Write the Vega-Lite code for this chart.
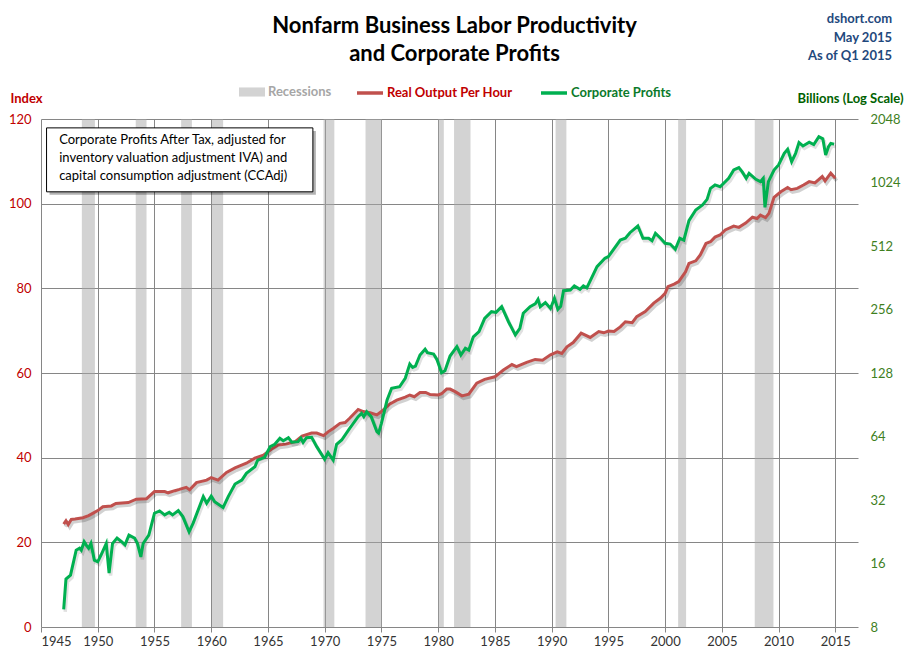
{
  "$schema": "https://vega.github.io/schema/vega-lite/v6.json",
  "width": 817,
  "height": 508,
  "autosize": "none",
  "padding": {"left": 41, "top": 119, "right": 50, "bottom": 35},
  "background": "white",
  "config": {
    "font": "Lato",
    "view": {"stroke": null},
    "legend": {
      "title": null,
      "orient": "none",
      "legendY": -41,
      "direction": "horizontal",
      "symbolSize": 676,
      "labelFont": "Lato",
      "labelFontSize": 13,
      "labelFontWeight": "bold",
      "labelOffset": 2
    }
  },
  "title": {
    "text": ["Nonfarm Business Labor Productivity", "and Corporate Profits"],
    "font": "Lato",
    "fontSize": 22,
    "fontWeight": "bold",
    "color": "#000000",
    "lineHeight": 28,
    "anchor": "middle",
    "dx": 5,
    "offset": -53
  },
  "datasets": {
    "recessions": [
      {"start": 1948.6, "end": 1949.75},
      {"start": 1953.35, "end": 1954.3},
      {"start": 1957.35, "end": 1958.3},
      {"start": 1960.05, "end": 1961.05},
      {"start": 1969.9, "end": 1970.85},
      {"start": 1973.6, "end": 1975.05},
      {"start": 1980.0, "end": 1980.5},
      {"start": 1981.4, "end": 1982.85},
      {"start": 1990.35, "end": 1991.3},
      {"start": 2001.15, "end": 2001.85},
      {"start": 2007.9, "end": 2009.55}
    ],
    "productivity": [
      {"year": 1947.0, "value": 24.3}, {"year": 1947.2, "value": 25.1}, {"year": 1947.4, "value": 24.2},
      {"year": 1947.67, "value": 25.4}, {"year": 1948.0, "value": 25.5}, {"year": 1948.7, "value": 25.8},
      {"year": 1949.2, "value": 26.3}, {"year": 1949.6, "value": 26.9}, {"year": 1950.0, "value": 27.5},
      {"year": 1950.45, "value": 28.4}, {"year": 1951.2, "value": 28.6}, {"year": 1951.6, "value": 29.2},
      {"year": 1952.7, "value": 29.4}, {"year": 1953.4, "value": 30.2}, {"year": 1954.3, "value": 30.3},
      {"year": 1955.0, "value": 32.0}, {"year": 1955.9, "value": 32.0}, {"year": 1956.2, "value": 31.7},
      {"year": 1956.8, "value": 32.2}, {"year": 1957.2, "value": 32.5}, {"year": 1957.8, "value": 33.0},
      {"year": 1958.1, "value": 32.4}, {"year": 1958.7, "value": 34.1}, {"year": 1959.6, "value": 34.7},
      {"year": 1960.0, "value": 35.3}, {"year": 1960.6, "value": 34.7}, {"year": 1961.35, "value": 36.5},
      {"year": 1962.1, "value": 37.6}, {"year": 1963.1, "value": 38.7}, {"year": 1963.85, "value": 39.9},
      {"year": 1964.6, "value": 40.6}, {"year": 1965.3, "value": 42.0}, {"year": 1965.9, "value": 43.0},
      {"year": 1966.6, "value": 43.2}, {"year": 1967.4, "value": 43.8}, {"year": 1968.0, "value": 45.1},
      {"year": 1968.85, "value": 45.8}, {"year": 1969.3, "value": 45.8}, {"year": 1969.9, "value": 45.2},
      {"year": 1970.3, "value": 46.1}, {"year": 1970.75, "value": 46.9}, {"year": 1971.35, "value": 48.1},
      {"year": 1971.8, "value": 48.3}, {"year": 1972.2, "value": 49.3}, {"year": 1972.95, "value": 51.4},
      {"year": 1973.4, "value": 50.9}, {"year": 1974.0, "value": 50.6}, {"year": 1974.6, "value": 50.1},
      {"year": 1975.0, "value": 50.9}, {"year": 1975.75, "value": 52.7}, {"year": 1976.35, "value": 53.6},
      {"year": 1977.1, "value": 54.3}, {"year": 1977.5, "value": 54.8}, {"year": 1977.9, "value": 54.4},
      {"year": 1978.4, "value": 55.4}, {"year": 1978.9, "value": 55.4}, {"year": 1979.3, "value": 54.9},
      {"year": 1980.0, "value": 54.8}, {"year": 1980.3, "value": 55.1}, {"year": 1980.75, "value": 56.2},
      {"year": 1981.05, "value": 56.2}, {"year": 1981.5, "value": 55.6}, {"year": 1982.1, "value": 54.6},
      {"year": 1982.7, "value": 55.0}, {"year": 1983.4, "value": 57.6}, {"year": 1984.1, "value": 58.5},
      {"year": 1985.0, "value": 59.1}, {"year": 1985.75, "value": 60.7}, {"year": 1986.5, "value": 62.0},
      {"year": 1986.9, "value": 61.5}, {"year": 1987.8, "value": 62.5}, {"year": 1988.55, "value": 63.2},
      {"year": 1989.2, "value": 63.0}, {"year": 1989.9, "value": 64.3}, {"year": 1990.5, "value": 65.0},
      {"year": 1990.9, "value": 64.6}, {"year": 1991.35, "value": 66.2}, {"year": 1991.9, "value": 67.2},
      {"year": 1992.6, "value": 69.4}, {"year": 1993.4, "value": 68.4}, {"year": 1994.15, "value": 69.8},
      {"year": 1994.6, "value": 69.5}, {"year": 1995.0, "value": 69.9}, {"year": 1995.5, "value": 69.8},
      {"year": 1996.05, "value": 70.9}, {"year": 1996.5, "value": 72.1}, {"year": 1997.1, "value": 71.9},
      {"year": 1997.5, "value": 73.3}, {"year": 1998.25, "value": 74.5}, {"year": 1999.0, "value": 76.5},
      {"year": 1999.6, "value": 77.7}, {"year": 2000.0, "value": 78.8}, {"year": 2000.25, "value": 80.4},
      {"year": 2000.8, "value": 81.0}, {"year": 2001.2, "value": 81.6}, {"year": 2001.8, "value": 83.9},
      {"year": 2002.1, "value": 85.9}, {"year": 2002.7, "value": 86.5}, {"year": 2003.1, "value": 87.9},
      {"year": 2003.6, "value": 90.6}, {"year": 2004.0, "value": 91.0}, {"year": 2004.4, "value": 92.1},
      {"year": 2004.85, "value": 92.6}, {"year": 2005.3, "value": 93.8}, {"year": 2006.05, "value": 94.7},
      {"year": 2006.5, "value": 94.4}, {"year": 2007.1, "value": 95.4}, {"year": 2007.7, "value": 96.8},
      {"year": 2008.1, "value": 96.5}, {"year": 2008.4, "value": 97.3}, {"year": 2008.85, "value": 96.7},
      {"year": 2009.15, "value": 97.7}, {"year": 2009.6, "value": 101.5}, {"year": 2010.2, "value": 102.8},
      {"year": 2010.8, "value": 103.8}, {"year": 2011.1, "value": 103.3}, {"year": 2011.65, "value": 103.6},
      {"year": 2012.2, "value": 104.4}, {"year": 2012.7, "value": 105.2}, {"year": 2013.2, "value": 104.9},
      {"year": 2013.85, "value": 106.4}, {"year": 2014.1, "value": 105.4}, {"year": 2014.6, "value": 107.2},
      {"year": 2014.8, "value": 106.6}, {"year": 2015.0, "value": 106.0}
    ],
    "profits": [
      {"year": 1947.0, "value": 9.7}, {"year": 1947.2, "value": 13.5}, {"year": 1947.6, "value": 14.1},
      {"year": 1948.1, "value": 18.5}, {"year": 1948.4, "value": 18.9}, {"year": 1948.55, "value": 18.5},
      {"year": 1948.8, "value": 20.3}, {"year": 1949.0, "value": 19.5}, {"year": 1949.2, "value": 18.9},
      {"year": 1949.4, "value": 19.9}, {"year": 1949.7, "value": 16.6}, {"year": 1950.0, "value": 16.3},
      {"year": 1950.3, "value": 17.6}, {"year": 1950.75, "value": 19.9}, {"year": 1951.0, "value": 14.4},
      {"year": 1951.3, "value": 19.9}, {"year": 1951.7, "value": 21.1}, {"year": 1952.1, "value": 20.3},
      {"year": 1952.4, "value": 19.6}, {"year": 1952.75, "value": 21.8}, {"year": 1953.25, "value": 21.1},
      {"year": 1953.5, "value": 19.9}, {"year": 1953.8, "value": 17.2}, {"year": 1954.0, "value": 19.9},
      {"year": 1954.5, "value": 21.8}, {"year": 1955.0, "value": 27.7}, {"year": 1955.45, "value": 28.4},
      {"year": 1955.9, "value": 27.2}, {"year": 1956.3, "value": 28.0}, {"year": 1956.6, "value": 27.2},
      {"year": 1957.1, "value": 28.5}, {"year": 1957.5, "value": 26.7}, {"year": 1958.05, "value": 22.6},
      {"year": 1958.4, "value": 24.8}, {"year": 1959.3, "value": 33.2}, {"year": 1959.6, "value": 30.9},
      {"year": 1960.0, "value": 33.4}, {"year": 1960.3, "value": 31.4}, {"year": 1961.05, "value": 29.5},
      {"year": 1961.5, "value": 33.2}, {"year": 1962.1, "value": 38.1}, {"year": 1962.7, "value": 39.8},
      {"year": 1963.1, "value": 42.8}, {"year": 1963.85, "value": 46.0}, {"year": 1964.1, "value": 49.5},
      {"year": 1964.7, "value": 51.0}, {"year": 1965.2, "value": 57.3}, {"year": 1965.6, "value": 58.8},
      {"year": 1966.05, "value": 62.8}, {"year": 1966.35, "value": 61.1}, {"year": 1966.8, "value": 63.2},
      {"year": 1967.1, "value": 60.1}, {"year": 1967.65, "value": 60.5}, {"year": 1967.9, "value": 62.8},
      {"year": 1968.1, "value": 60.0}, {"year": 1968.4, "value": 63.2}, {"year": 1968.85, "value": 63.5},
      {"year": 1969.3, "value": 57.3}, {"year": 1970.0, "value": 49.9}, {"year": 1970.3, "value": 53.6},
      {"year": 1970.75, "value": 49.5}, {"year": 1971.05, "value": 58.8}, {"year": 1971.5, "value": 61.6},
      {"year": 1972.2, "value": 70.0}, {"year": 1972.95, "value": 79.5}, {"year": 1973.25, "value": 82.4},
      {"year": 1973.45, "value": 79.5}, {"year": 1973.7, "value": 83.9}, {"year": 1974.1, "value": 79.5},
      {"year": 1974.6, "value": 67.5}, {"year": 1974.75, "value": 66.4}, {"year": 1975.0, "value": 73.9},
      {"year": 1975.5, "value": 95.3}, {"year": 1975.9, "value": 108.3}, {"year": 1976.6, "value": 110.2},
      {"year": 1977.1, "value": 120.8}, {"year": 1977.5, "value": 141}, {"year": 1977.75, "value": 136},
      {"year": 1978.0, "value": 138}, {"year": 1978.4, "value": 155.8}, {"year": 1978.85, "value": 165.8},
      {"year": 1979.05, "value": 159.8}, {"year": 1979.6, "value": 157.5}, {"year": 1979.9, "value": 148},
      {"year": 1980.3, "value": 128.4}, {"year": 1980.6, "value": 131.2}, {"year": 1981.05, "value": 154},
      {"year": 1981.65, "value": 170.6}, {"year": 1982.0, "value": 155.8}, {"year": 1982.4, "value": 167.6},
      {"year": 1982.7, "value": 164.5}, {"year": 1983.1, "value": 190}, {"year": 1983.6, "value": 201},
      {"year": 1984.1, "value": 232.5}, {"year": 1984.7, "value": 250}, {"year": 1985.1, "value": 248},
      {"year": 1985.6, "value": 264}, {"year": 1986.2, "value": 224}, {"year": 1986.8, "value": 194},
      {"year": 1987.2, "value": 208.5}, {"year": 1987.5, "value": 245.6}, {"year": 1988.1, "value": 264},
      {"year": 1988.55, "value": 272}, {"year": 1988.8, "value": 286}, {"year": 1989.0, "value": 264},
      {"year": 1989.45, "value": 276}, {"year": 1989.9, "value": 259}, {"year": 1990.25, "value": 289.5},
      {"year": 1990.55, "value": 256.5}, {"year": 1990.8, "value": 265}, {"year": 1991.05, "value": 314.4},
      {"year": 1991.65, "value": 316.7}, {"year": 1992.0, "value": 331}, {"year": 1992.5, "value": 319},
      {"year": 1992.8, "value": 331}, {"year": 1993.1, "value": 324}, {"year": 1994.0, "value": 408.5},
      {"year": 1994.7, "value": 447.6}, {"year": 1995.0, "value": 456}, {"year": 1996.05, "value": 546},
      {"year": 1996.5, "value": 557}, {"year": 1996.9, "value": 592}, {"year": 1997.6, "value": 637},
      {"year": 1998.05, "value": 557}, {"year": 1998.55, "value": 557}, {"year": 1998.85, "value": 542},
      {"year": 1999.15, "value": 588}, {"year": 1999.6, "value": 557}, {"year": 2000.0, "value": 527},
      {"year": 2000.45, "value": 523}, {"year": 2000.9, "value": 494}, {"year": 2001.3, "value": 557},
      {"year": 2001.65, "value": 546}, {"year": 2002.1, "value": 675}, {"year": 2002.7, "value": 758},
      {"year": 2003.3, "value": 801}, {"year": 2003.7, "value": 852}, {"year": 2004.0, "value": 961},
      {"year": 2004.4, "value": 997}, {"year": 2004.85, "value": 978}, {"year": 2005.6, "value": 1072},
      {"year": 2006.05, "value": 1174}, {"year": 2006.5, "value": 1204}, {"year": 2006.8, "value": 1150},
      {"year": 2007.15, "value": 1072}, {"year": 2007.4, "value": 1132}, {"year": 2008.0, "value": 1060},
      {"year": 2008.4, "value": 1033}, {"year": 2008.65, "value": 1072}, {"year": 2008.8, "value": 781},
      {"year": 2009.1, "value": 1033}, {"year": 2009.6, "value": 1174}, {"year": 2010.0, "value": 1240},
      {"year": 2010.5, "value": 1408}, {"year": 2010.8, "value": 1471}, {"year": 2011.15, "value": 1286},
      {"year": 2011.5, "value": 1408}, {"year": 2011.8, "value": 1582}, {"year": 2012.15, "value": 1526},
      {"year": 2012.7, "value": 1590}, {"year": 2013.1, "value": 1550}, {"year": 2013.55, "value": 1687},
      {"year": 2013.9, "value": 1650}, {"year": 2014.15, "value": 1382}, {"year": 2014.4, "value": 1514},
      {"year": 2014.6, "value": 1568}, {"year": 2014.9, "value": 1557}
    ]
  },
  "layer": [
    {
      "data": {"name": "recessions"},
      "mark": {"type": "rect", "opacity": 0.5},
      "encoding": {
        "x": {
          "field": "start", "type": "quantitative",
          "scale": {"domain": [1945, 2017], "nice": false, "zero": false},
          "axis": {
            "title": null,
            "values": [1945, 1950, 1955, 1960, 1965, 1970, 1975, 1980, 1985, 1990, 1995, 2000, 2005, 2010, 2015],
            "format": "d",
            "grid": true, "gridColor": "#868686", "gridWidth": 1, "gridOpacity": 1,
            "domain": false,
            "ticks": true, "tickSize": 5, "tickColor": "#868686",
            "labelPadding": 3, "labelColor": "#333333", "labelFontSize": 13, "labelFont": "Lato"
          }
        },
        "x2": {"field": "end"},
        "fill": {
          "datum": "Recessions",
          "scale": {"domain": ["Recessions"], "range": ["#A7A7A7"]},
          "legend": {
            "legendX": 197,
            "symbolType": "M-1,-0.35H1V0.35H-1Z",
            "labelColor": "#A6A6A6"
          }
        }
      }
    },
    {
      "data": {"name": "productivity"},
      "mark": {"type": "line", "color": "#000000", "opacity": 0.18, "strokeWidth": 3.5, "xOffset": 1.5, "yOffset": 2.5},
      "encoding": {
        "x": {"field": "year", "type": "quantitative"},
        "y": {"field": "value", "type": "quantitative", "scale": {"domain": [0, 120], "nice": false}, "axis": null}
      }
    },
    {
      "data": {"name": "productivity"},
      "mark": {"type": "line", "strokeWidth": 3},
      "encoding": {
        "x": {"field": "year", "type": "quantitative"},
        "y": {
          "field": "value", "type": "quantitative",
          "scale": {"domain": [0, 120], "nice": false},
          "axis": {
            "orient": "left",
            "values": [0, 20, 40, 60, 80, 100, 120],
            "grid": true, "gridColor": "#868686", "gridWidth": 1, "gridOpacity": 1,
            "domain": false, "ticks": false,
            "labelPadding": 10, "labelColor": "#C00000", "labelFontSize": 13, "labelFont": "Lato",
            "title": "Index",
            "titleAngle": 0, "titleX": -31, "titleY": -21,
            "titleAlign": "left", "titleBaseline": "middle",
            "titleColor": "#C00000", "titleFontWeight": "bold", "titleFontSize": 13, "titleFont": "Lato"
          }
        },
        "stroke": {
          "datum": "Real Output Per Hour",
          "scale": {"domain": ["Real Output Per Hour"], "range": ["#C0504D"]},
          "legend": {
            "legendX": 314,
            "symbolType": "stroke",
            "symbolStrokeWidth": 3.5,
            "labelColor": "#C00000"
          }
        }
      }
    },
    {
      "data": {"name": "profits"},
      "mark": {"type": "line", "color": "#000000", "opacity": 0.12, "strokeWidth": 3.5, "xOffset": 1.5, "yOffset": 2.5},
      "encoding": {
        "x": {"field": "year", "type": "quantitative"},
        "y": {"field": "value", "type": "quantitative", "scale": {"type": "log", "base": 2, "domain": [8, 2048], "nice": false}, "axis": null}
      }
    },
    {
      "data": {"name": "profits"},
      "mark": {"type": "line", "strokeWidth": 3},
      "encoding": {
        "x": {"field": "year", "type": "quantitative"},
        "y": {
          "field": "value", "type": "quantitative",
          "scale": {"type": "log", "base": 2, "domain": [8, 2048], "nice": false},
          "axis": {
            "orient": "right",
            "values": [8, 16, 32, 64, 128, 256, 512, 1024, 2048],
            "format": "d",
            "grid": false, "domain": false, "ticks": false,
            "labelPadding": 12, "labelColor": "#3F7F1F", "labelFontSize": 13, "labelFont": "Lato",
            "title": "Billions (Log Scale)",
            "titleAngle": 0, "titleX": 45, "titleY": -21,
            "titleAlign": "right", "titleBaseline": "middle",
            "titleColor": "#006100", "titleFontWeight": "bold", "titleFontSize": 13, "titleFont": "Lato"
          }
        },
        "color": {
          "datum": "Corporate Profits",
          "scale": {"domain": ["Corporate Profits"], "range": ["#00B050"]},
          "legend": {
            "legendX": 498,
            "symbolType": "stroke",
            "symbolStrokeWidth": 3.5,
            "labelColor": "#0B7A2B"
          }
        }
      }
    },
    {
      "data": {"values": [{}]},
      "mark": {"type": "rect", "color": "#000000", "opacity": 0.3, "xOffset": 3, "x2Offset": 3, "yOffset": 3, "y2Offset": 3},
      "encoding": {
        "x": {"datum": 1945.49, "type": "quantitative"},
        "x2": {"datum": 1968.96},
        "y": {"datum": 117.9, "type": "quantitative", "scale": {"domain": [0, 120], "nice": false}, "axis": null},
        "y2": {"datum": 102.8}
      }
    },
    {
      "data": {"values": [{}]},
      "mark": {"type": "rect", "fill": "#FFFFFF", "stroke": "#000000", "strokeWidth": 1},
      "encoding": {
        "x": {"datum": 1945.49, "type": "quantitative"},
        "x2": {"datum": 1968.96},
        "y": {"datum": 117.9, "type": "quantitative", "scale": {"domain": [0, 120], "nice": false}, "axis": null},
        "y2": {"datum": 102.8}
      }
    },
    {
      "data": {"values": [{}]},
      "mark": {
        "type": "text",
        "text": ["Corporate Profits After Tax, adjusted for", "inventory valuation adjustment IVA) and", "capital consumption adjustment (CCAdj)"],
        "align": "left", "baseline": "top", "lineHeight": 18,
        "fontSize": 13, "color": "#000000", "font": "Lato"
      },
      "encoding": {
        "x": {"datum": 1946.6, "type": "quantitative"},
        "y": {"datum": 116.4, "type": "quantitative", "scale": {"domain": [0, 120], "nice": false}, "axis": null}
      }
    },
    {
      "data": {"values": [{}]},
      "mark": {
        "type": "text",
        "text": ["dshort.com", "May 2015", "As of Q1 2015"],
        "align": "right", "baseline": "top", "lineHeight": 18.5,
        "fontSize": 13, "fontWeight": "bold", "color": "#1F497D", "font": "Lato"
      },
      "encoding": {
        "x": {"datum": 2020, "type": "quantitative"},
        "y": {"datum": 145.0, "type": "quantitative", "scale": {"domain": [0, 120], "nice": false}, "axis": null}
      }
    }
  ],
  "resolve": {"scale": {"y": "independent"}}
}
